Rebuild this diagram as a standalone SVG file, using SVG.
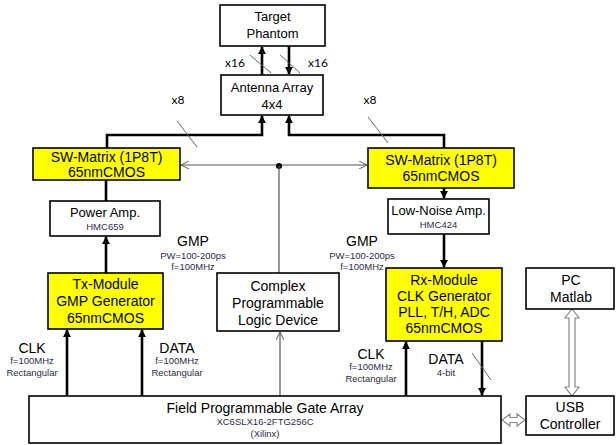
<svg xmlns="http://www.w3.org/2000/svg" width="616" height="445" viewBox="0 0 616 445">
  <defs>
    <style>
      .box { fill: #ffffff; stroke: #000; stroke-width: 1.6; }
      .chip { fill: #ffff00; stroke: #000; stroke-width: 1.6; }
      .t { font-family: "Liberation Sans", Arial, sans-serif; font-size: 14px; fill: #000; text-anchor: middle; }
      .tm { font-family: "Liberation Sans", Arial, sans-serif; font-size: 13px; fill: #000; text-anchor: middle; }
      .s { font-family: "Liberation Sans", Arial, sans-serif; font-size: 9.5px; fill: #2e2a48; text-anchor: middle; }
      .n { font-family: Lato, "Open Sans", sans-serif; font-size: 12px; fill: #000; text-anchor: middle; }
      .bus { fill: none; stroke: #000; stroke-width: 2.6; }
      .ctl { fill: none; stroke: #555; stroke-width: 1.2; }
      .slash { stroke: #666; stroke-width: 1; }
      .dbl { fill: #fff; stroke: #888; stroke-width: 1.2; }
    </style>
    <marker id="ah" viewBox="0 0 10 10" refX="9" refY="5" markerWidth="3.2" markerHeight="3.2" orient="auto">
      <path d="M0,0 L10,5 L0,10 z" fill="#000"/>
    </marker>
    <marker id="open" viewBox="0 0 10 10" refX="10" refY="5" markerWidth="8" markerHeight="8" orient="auto" markerUnits="userSpaceOnUse">
      <path d="M0,0 L10,5 L0,10" fill="none" stroke="#555" stroke-width="1.2"/>
    </marker>
  </defs>

  <!-- connectors -->
  <g id="connectors">
    <!-- antenna to phantom and back -->
    <line class="bus" x1="262" y1="75" x2="262" y2="47" marker-end="url(#ah)"/>
    <line class="bus" x1="289" y1="46" x2="289" y2="74" marker-end="url(#ah)"/>
    <line class="slash" x1="250" y1="55" x2="271" y2="73"/>
    <line class="slash" x1="280" y1="55" x2="300" y2="73"/>

    <!-- switch matrices to antenna array -->
    <polyline class="bus" points="107,148 107,135 262,135 262,116" marker-end="url(#ah)"/>
    <polyline class="bus" points="444,148 444,135 289,135 289,116" marker-end="url(#ah)"/>
    <line class="slash" x1="177" y1="121" x2="197" y2="147"/>
    <line class="slash" x1="368" y1="117" x2="388" y2="143"/>

    <!-- control line from CPLD to both switch matrices -->
    <line class="ctl" x1="279" y1="165" x2="181" y2="165" marker-end="url(#open)"/>
    <line class="ctl" x1="279" y1="165" x2="367" y2="165" marker-end="url(#open)"/>
    <circle cx="279" cy="166" r="3" fill="#000"/>
    <line class="ctl" x1="279" y1="166" x2="279" y2="273"/>
    <line class="ctl" x1="280" y1="396" x2="280" y2="332" marker-end="url(#open)"/>

    <!-- transmit chain -->
    <line class="bus" x1="106" y1="179" x2="106" y2="201"/>
    <line class="bus" x1="106" y1="273" x2="106" y2="237" marker-end="url(#ah)"/>
    <line class="bus" x1="67" y1="396" x2="67" y2="330" marker-end="url(#ah)"/>
    <line class="bus" x1="142" y1="396" x2="142" y2="330" marker-end="url(#ah)"/>

    <!-- receive chain -->
    <line class="bus" x1="444" y1="188" x2="444" y2="198" marker-end="url(#ah)"/>
    <line class="bus" x1="444" y1="234" x2="444" y2="267" marker-end="url(#ah)"/>
    <line class="bus" x1="406" y1="396" x2="406" y2="342" marker-end="url(#ah)"/>
    <line class="bus" x1="482" y1="341" x2="482" y2="395" marker-end="url(#ah)"/>
    <line class="slash" x1="472" y1="353" x2="491" y2="380"/>

    <!-- hollow double arrows -->
    <path class="dbl" d="M572,309 L579,318 L575,318 L575,387 L579,387 L572,396 L565,387 L569,387 L569,318 L565,318 Z"/>
    <path class="dbl" d="M502,420 L510,414 L510,417.5 L517,417.5 L517,414 L525,420 L517,426 L517,422.5 L510,422.5 L510,426 Z"/>
  </g>

  <!-- channel counts -->
  <text class="n" x="235" y="67">x16</text>
  <text class="n" x="318" y="67">x16</text>
  <text class="n" x="178" y="104">x8</text>
  <text class="n" x="370" y="104">x8</text>

  <g id="target">
    <rect class="box" x="220" y="5" width="105" height="41"/>
    <text class="tm" x="272.5" y="21">Target</text>
    <text class="tm" x="272.5" y="38">Phantom</text>
  </g>

  <g id="antenna">
    <rect class="box" x="221" y="75" width="102" height="40"/>
    <text class="tm" x="272" y="92">Antenna Array</text>
    <text class="tm" x="272" y="109">4x4</text>
  </g>

  <g id="sw-left">
    <rect class="chip" x="33" y="148" width="147" height="32"/>
    <text class="t" x="106.5" y="162">SW-Matrix (1P8T)</text>
    <text class="t" x="106.5" y="177">65nmCMOS</text>
  </g>

  <g id="sw-right">
    <rect class="chip" x="368" y="148" width="146" height="40"/>
    <text class="t" x="441" y="165">SW-Matrix (1P8T)</text>
    <text class="t" x="441" y="181">65nmCMOS</text>
  </g>

  <g id="power-amp">
    <rect class="box" x="50" y="201" width="110" height="35"/>
    <text class="tm" x="105" y="217">Power Amp.</text>
    <text class="s" x="105" y="230">HMC659</text>
  </g>

  <g id="lna">
    <rect class="box" x="388" y="199" width="101" height="35"/>
    <text class="tm" x="438.5" y="215">Low-Noise Amp.</text>
    <text class="s" x="438.5" y="228">HMC424</text>
  </g>

  <!-- pulse parameters -->
  <text class="t" x="193" y="246">GMP</text>
  <text class="s" x="193" y="259">PW=100-200ps</text>
  <text class="s" x="193" y="270">f=100MHz</text>
  <text class="t" x="362" y="246">GMP</text>
  <text class="s" x="362" y="259">PW=100-200ps</text>
  <text class="s" x="362" y="270">f=100MHz</text>

  <g id="tx-module">
    <rect class="chip" x="48" y="273" width="115" height="56"/>
    <text class="t" x="105.5" y="289">Tx-Module</text>
    <text class="t" x="105.5" y="306">GMP Generator</text>
    <text class="t" x="105.5" y="323">65nmCMOS</text>
  </g>

  <g id="cpld">
    <rect class="box" x="217" y="273" width="122" height="58"/>
    <text class="t" x="278" y="291">Complex</text>
    <text class="t" x="278" y="308">Programmable</text>
    <text class="t" x="278" y="325">Logic Device</text>
  </g>

  <g id="rx-module">
    <rect class="chip" x="386" y="268" width="116" height="73"/>
    <text class="t" x="444" y="285">Rx-Module</text>
    <text class="t" x="444" y="301">CLK Generator</text>
    <text class="t" x="444" y="317">PLL, T/H, ADC</text>
    <text class="t" x="444" y="333">65nmCMOS</text>
  </g>

  <g id="pc">
    <rect class="box" x="526" y="268" width="88" height="41"/>
    <text class="t" x="571" y="285">PC</text>
    <text class="t" x="571" y="302">Matlab</text>
  </g>

  <!-- interface signal labels -->
  <text class="t" x="32" y="353">CLK</text>
  <text class="s" x="32" y="364">f=100MHz</text>
  <text class="s" x="32" y="376">Rectangular</text>
  <text class="t" x="177" y="353">DATA</text>
  <text class="s" x="177" y="364">f=100MHz</text>
  <text class="s" x="177" y="376">Rectangular</text>
  <text class="t" x="371" y="359">CLK</text>
  <text class="s" x="371" y="370">f=100MHz</text>
  <text class="s" x="371" y="382">Rectangular</text>
  <text class="t" x="446" y="364">DATA</text>
  <text class="s" x="446" y="376">4-bit</text>

  <g id="fpga">
    <rect class="box" x="29" y="396" width="472" height="47"/>
    <text class="t" x="265" y="413">Field Programmable Gate Array</text>
    <text class="s" x="265" y="425">XC6SLX16-2FTG256C</text>
    <text class="s" x="265" y="437">(Xilinx)</text>
  </g>

  <g id="usb">
    <rect class="box" x="526" y="396" width="88" height="39"/>
    <text class="t" x="570" y="412">USB</text>
    <text class="t" x="570" y="429">Controller</text>
  </g>
</svg>
